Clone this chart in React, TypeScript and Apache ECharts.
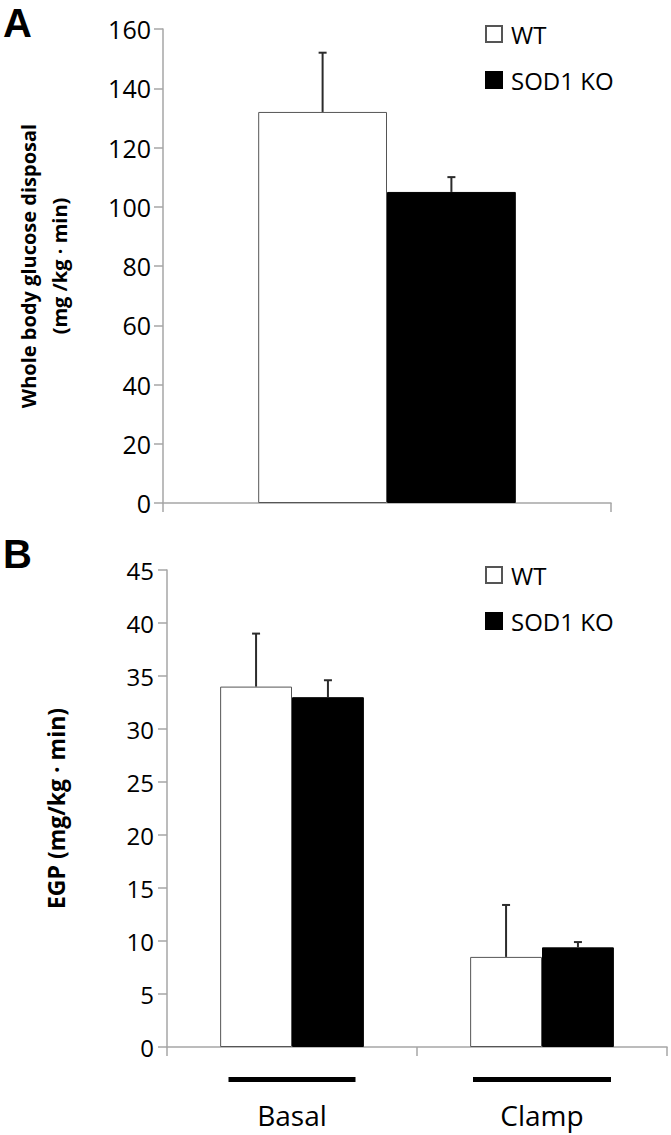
import React, { useEffect, useRef } from "react";
import * as echarts from "echarts";

const groupNames = ["WT", "SOD1 KO"];

// Panel A
const panelACategories = [""];
const panelAWT = [132];
const panelAWTErr = [20];
const panelAKO = [105];
const panelAKOErr = [5];
const panelAMin = 0;
const panelAMax = 160;
const panelAStep = 20;

// Panel B
const panelBCategories = ["Basal", "Clamp"];
const panelBWT = [34, 8.5];
const panelBWTErr = [5, 4.9];
const panelBKO = [33, 9.4];
const panelBKOErr = [1.6, 0.5];
const panelBMin = 0;
const panelBMax = 45;
const panelBStep = 5;

const GAP = 0.425;
const FONT = '"Open Sans", "Liberation Sans", sans-serif';
const AXIS_GRAY = "#a6a6a6";

function errRender(params: any, api: any) {
  const cat = api.value(0);
  const val = api.value(1);
  const err = api.value(2);
  const sign = api.value(3);
  const band = api.size([1, 0])[0];
  const barW = (band * (1 - GAP)) / 2;
  const base = api.coord([cat, val]);
  const top = api.coord([cat, val + err]);
  const x = base[0] + (sign * barW) / 2;
  const st = { stroke: "#2b2b2b", lineWidth: 2 };
  return {
    type: "group",
    children: [
      { type: "line", shape: { x1: x, y1: base[1], x2: x, y2: top[1] }, style: st },
      { type: "line", shape: { x1: x - 4, y1: top[1], x2: x + 4, y2: top[1] }, style: st },
    ],
  };
}

function errData(vals: number[], errs: number[], sign: number) {
  return vals.map((v, i) => [i, v, errs[i], sign]);
}

export default function App() {
  const ref = useRef<HTMLDivElement>(null);
  useEffect(() => {
    if (!ref.current) return;
    const chart = echarts.init(ref.current, null, { renderer: "svg" });
    const yAxisCommon = {
      type: "value",
      axisLine: { show: true, lineStyle: { color: AXIS_GRAY, width: 1.5 } },
      axisTick: { show: true, length: 9, lineStyle: { color: AXIS_GRAY, width: 1.5 } },
      splitLine: { show: false },
      nameLocation: "middle",
      nameRotate: 90,
    };
    const nameStyle = (size: number) => ({
      color: "#000",
      fontSize: size,
      fontWeight: "bold",
      fontFamily: FONT,
      lineHeight: 31,
      align: "center",
    });
    const wtStyle = { color: "#ffffff", borderColor: "#555555", borderWidth: 1 };
    const koStyle = { color: "#000000", borderColor: "#000000", borderWidth: 1 };
    const legendCommon = {
      orient: "vertical",
      left: 480,
      data: groupNames,
      icon: "rect",
      itemWidth: 16,
      itemHeight: 16,
      itemGap: 22,
      textStyle: { color: "#000", fontSize: 24, fontFamily: FONT, padding: [0, 0, 0, 4] },
      selectedMode: false,
    };
    const option: any = {
      animation: false,
      backgroundColor: "#ffffff",
      graphic: [
        {
          type: "text",
          left: 3,
          top: 3,
          style: { text: "A", font: 'bold 40px "Liberation Sans", Arial, sans-serif', fill: "#000" },
        },
        {
          type: "text",
          left: 3,
          top: 534,
          style: { text: "B", font: 'bold 40px "Liberation Sans", Arial, sans-serif', fill: "#000" },
        },
      ],
      legend: [
        { ...legendCommon, top: 17 },
        { ...legendCommon, top: 558 },
      ],
      grid: [
        { left: 163, top: 29, width: 448, height: 474 },
        { left: 167, top: 570, width: 500, height: 477 },
      ],
      xAxis: [
        {
          type: "category",
          gridIndex: 0,
          data: panelACategories,
          axisLine: { lineStyle: { color: AXIS_GRAY, width: 1.5 } },
          axisTick: { show: true, length: 9, lineStyle: { color: AXIS_GRAY, width: 1.5 } },
          axisLabel: { show: false },
        },
        {
          type: "category",
          gridIndex: 1,
          data: panelBCategories,
          axisLine: { lineStyle: { color: AXIS_GRAY, width: 1.5 } },
          axisTick: { show: true, length: 9, lineStyle: { color: AXIS_GRAY, width: 1.5 } },
          axisLabel: {
            margin: 30,
            formatter: (v: string) => (v === "Basal" ? `{barA| }\n{lab|${v}}` : `{barB| }\n{lab|${v}}`),
            rich: {
              barA: { width: 127, height: 5, lineHeight: 5, backgroundColor: "#000", fontSize: 1 },
              barB: { width: 138, height: 5, lineHeight: 5, backgroundColor: "#000", fontSize: 1 },
              lab: { color: "#000", fontSize: 28, fontFamily: FONT, lineHeight: 66, align: "center" },
            },
          },
        },
      ],
      yAxis: [
        {
          ...yAxisCommon,
          gridIndex: 0,
          min: panelAMin,
          max: panelAMax,
          interval: panelAStep,
          axisLabel: { color: "#000", fontSize: 25, fontFamily: FONT, margin: 12 },
          name: "Whole body glucose disposal\n(mg /kg · min)",
          nameGap: 88,
          nameTextStyle: nameStyle(20),
        },
        {
          ...yAxisCommon,
          gridIndex: 1,
          min: panelBMin,
          max: panelBMax,
          interval: panelBStep,
          axisLabel: { color: "#000", fontSize: 24, fontFamily: FONT, margin: 13 },
          name: "EGP (mg/kg · min)",
          nameGap: 96,
          nameTextStyle: nameStyle(23),
        },
      ],
      series: [
        {
          type: "bar",
          name: groupNames[0],
          xAxisIndex: 0,
          yAxisIndex: 0,
          data: panelAWT,
          barGap: "0%",
          barCategoryGap: GAP * 100 + "%",
          itemStyle: wtStyle,
        },
        {
          type: "bar",
          name: groupNames[1],
          xAxisIndex: 0,
          yAxisIndex: 0,
          data: panelAKO,
          barGap: "0%",
          barCategoryGap: GAP * 100 + "%",
          itemStyle: koStyle,
        },
        {
          type: "bar",
          name: groupNames[0],
          xAxisIndex: 1,
          yAxisIndex: 1,
          data: panelBWT,
          barGap: "0%",
          barCategoryGap: GAP * 100 + "%",
          itemStyle: wtStyle,
        },
        {
          type: "bar",
          name: groupNames[1],
          xAxisIndex: 1,
          yAxisIndex: 1,
          data: panelBKO,
          barGap: "0%",
          barCategoryGap: GAP * 100 + "%",
          itemStyle: koStyle,
        },
        {
          type: "custom",
          name: "errA",
          xAxisIndex: 0,
          yAxisIndex: 0,
          renderItem: errRender,
          encode: { x: 0, y: 1 },
          data: [...errData(panelAWT, panelAWTErr, -1), ...errData(panelAKO, panelAKOErr, 1)],
          z: 5,
        },
        {
          type: "custom",
          name: "errB",
          xAxisIndex: 1,
          yAxisIndex: 1,
          renderItem: errRender,
          encode: { x: 0, y: 1 },
          data: [...errData(panelBWT, panelBWTErr, -1), ...errData(panelBKO, panelBKOErr, 1)],
          z: 5,
        },
      ],
    };
    chart.setOption(option);
    return () => chart.dispose();
  }, []);
  return (
    <div
      ref={ref}
      style={{ position: "absolute", left: 0, top: 0, width: 671, height: 1135, background: "#fff" }}
    />
  );
}
